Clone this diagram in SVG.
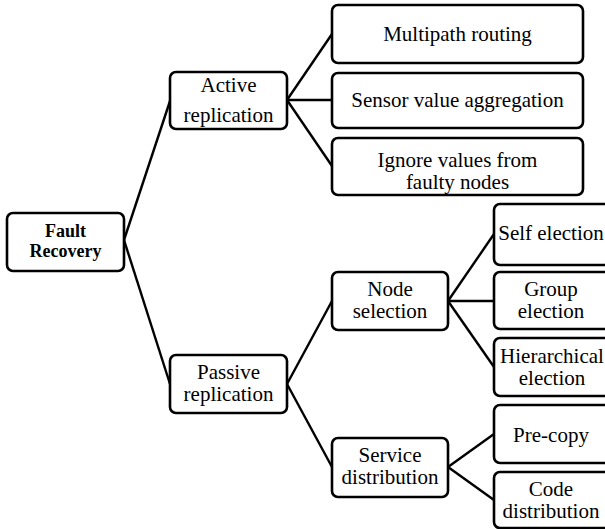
<svg xmlns="http://www.w3.org/2000/svg" width="605" height="529" viewBox="0 0 605 529">
  <style>
    .box { fill: #fff; stroke: #000; stroke-width: 2.6; }
    .edge { stroke: #000; stroke-width: 2.4; fill: none; }
    .lbl { font-size: 21px; fill: #000; text-anchor: middle; }
    .bold { font-weight: bold; font-size: 18px; }
  </style>
  <rect width="605" height="529" fill="#fff"/>

  <!-- connectors -->
  <g id="connectors">
    <line class="edge" x1="124" y1="240" x2="170" y2="101"/>
    <line class="edge" x1="124" y1="240" x2="170" y2="384"/>
    <line class="edge" x1="287" y1="100" x2="332" y2="34"/>
    <line class="edge" x1="287" y1="100" x2="332" y2="100"/>
    <line class="edge" x1="287" y1="100" x2="332" y2="166"/>
    <line class="edge" x1="287" y1="384" x2="332" y2="301"/>
    <line class="edge" x1="287" y1="384" x2="332" y2="467"/>
    <line class="edge" x1="448" y1="301" x2="494" y2="234"/>
    <line class="edge" x1="448" y1="301" x2="494" y2="301"/>
    <line class="edge" x1="448" y1="301" x2="494" y2="367"/>
    <line class="edge" x1="448" y1="467" x2="494" y2="434"/>
    <line class="edge" x1="448" y1="467" x2="494" y2="500"/>
  </g>

  <g font-family="Liberation Serif, Times New Roman, DejaVu Serif, serif">
  <g id="fault-recovery">
    <rect class="box" x="7" y="213" width="117" height="58" rx="6"/>
    <text class="lbl bold" x="65.5" y="237">Fault</text>
    <text class="lbl bold" x="65.5" y="257">Recovery</text>
  </g>

  <g id="active-replication">
    <rect class="box" x="170" y="72" width="117" height="57" rx="6"/>
    <text class="lbl" x="228.5" y="92">Active</text>
    <text class="lbl" x="228.5" y="122">replication</text>
  </g>

  <g id="passive-replication">
    <rect class="box" x="170" y="355" width="117" height="58" rx="6"/>
    <text class="lbl" x="228.5" y="379">Passive</text>
    <text class="lbl" x="228.5" y="401">replication</text>
  </g>

  <g id="multipath-routing">
    <rect class="box" x="332" y="5" width="251" height="58" rx="6"/>
    <text class="lbl" x="457.5" y="41">Multipath routing</text>
  </g>

  <g id="sensor-value-aggregation">
    <rect class="box" x="332" y="73" width="251" height="55" rx="6"/>
    <text class="lbl" x="457.5" y="107">Sensor value aggregation</text>
  </g>

  <g id="ignore-values">
    <rect class="box" x="332" y="138" width="251" height="57" rx="6"/>
    <text class="lbl" x="457.5" y="167">Ignore values from</text>
    <text class="lbl" x="457.5" y="189">faulty nodes</text>
  </g>

  <g id="node-selection">
    <rect class="box" x="332" y="272" width="116" height="58" rx="6"/>
    <text class="lbl" x="390" y="296">Node</text>
    <text class="lbl" x="390" y="318">selection</text>
  </g>

  <g id="service-distribution">
    <rect class="box" x="332" y="438" width="116" height="59" rx="6"/>
    <text class="lbl" x="390" y="462">Service</text>
    <text class="lbl" x="390" y="484">distribution</text>
  </g>

  <g id="self-election">
    <rect class="box" x="494" y="204" width="122" height="61" rx="6"/>
    <text class="lbl" x="551" y="240">Self election</text>
  </g>

  <g id="group-election">
    <rect class="box" x="494" y="272" width="122" height="57" rx="6"/>
    <text class="lbl" x="551" y="296">Group</text>
    <text class="lbl" x="551" y="318">election</text>
  </g>

  <g id="hierarchical-election">
    <rect class="box" x="494" y="338" width="122" height="58" rx="6"/>
    <text class="lbl" x="552" y="363">Hierarchical</text>
    <text class="lbl" x="552" y="385">election</text>
  </g>

  <g id="pre-copy">
    <rect class="box" x="494" y="405" width="122" height="58" rx="6"/>
    <text class="lbl" x="551" y="442">Pre-copy</text>
  </g>

  <g id="code-distribution">
    <rect class="box" x="494" y="472" width="122" height="56" rx="6"/>
    <text class="lbl" x="551" y="496">Code</text>
    <text class="lbl" x="551" y="518">distribution</text>
  </g>
  </g>
</svg>
